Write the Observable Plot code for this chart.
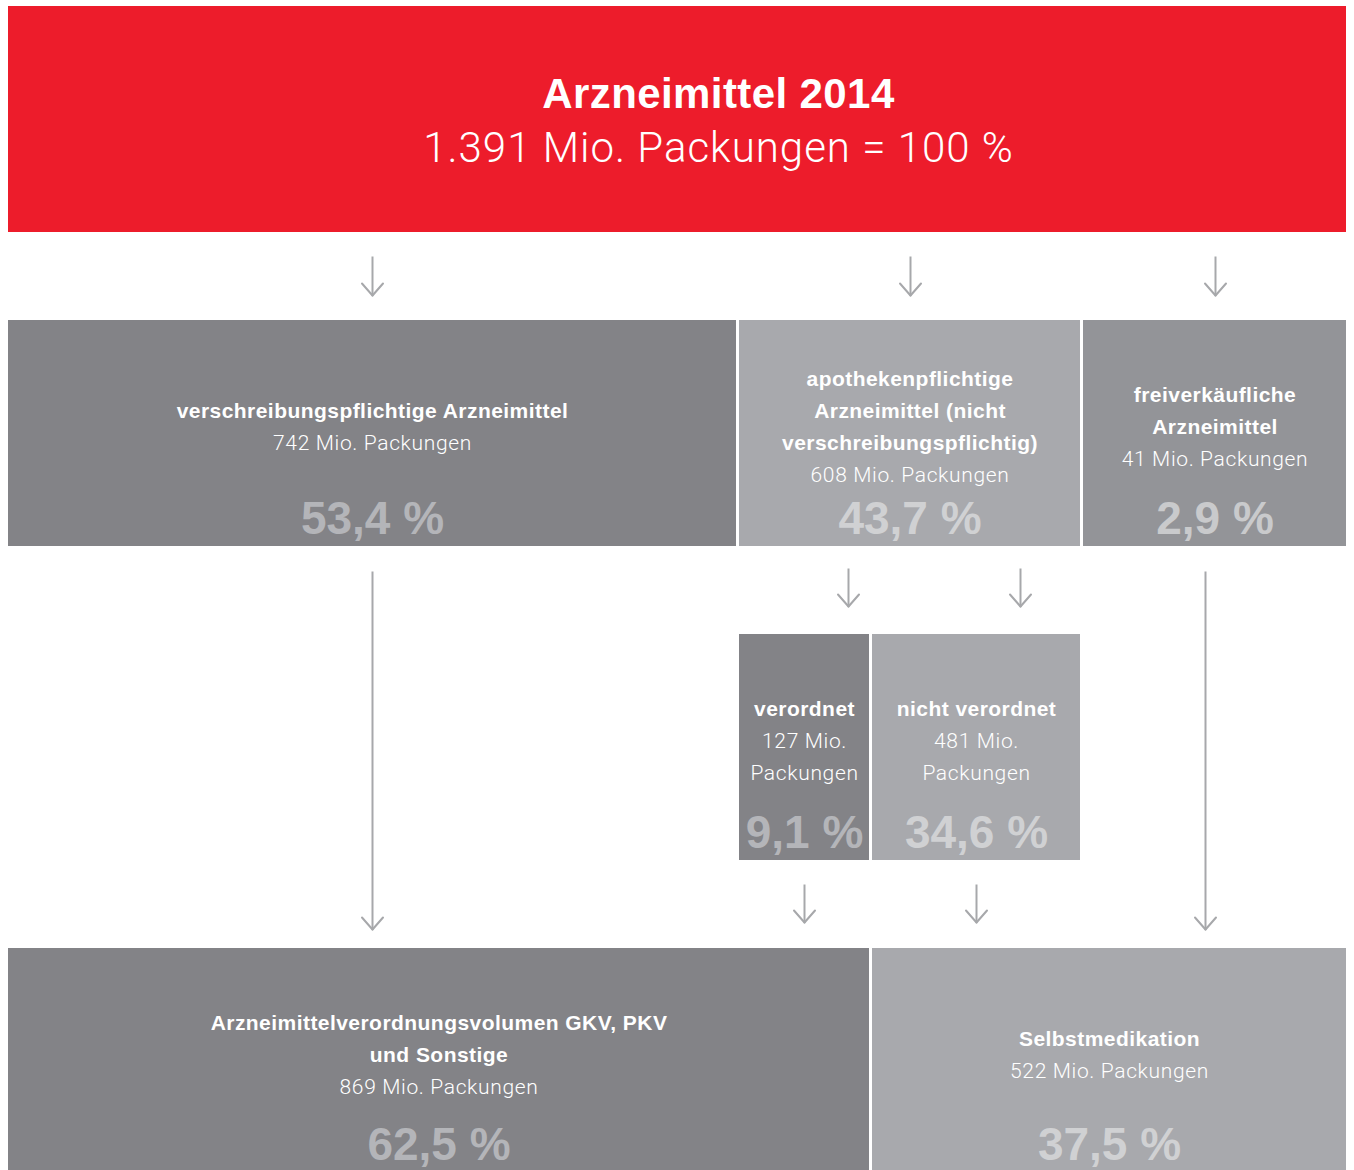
<!DOCTYPE html>
<html><head><meta charset="utf-8">
<script src="https://cdn.jsdelivr.net/npm/d3@7"></script>
<script src="https://cdn.jsdelivr.net/npm/@observablehq/plot@0.6"></script>
<style>body{margin:0;background:#fff} svg{display:block}</style>
</head><body><div id="chart"></div>
<script>
// ---- Data ----
const categories = [
  "Arzneimittel 2014",
  "verschreibungspflichtige Arzneimittel",
  "apothekenpflichtige Arzneimittel (nicht verschreibungspflichtig)",
  "freiverkäufliche Arzneimittel",
  "verordnet",
  "nicht verordnet",
  "Arzneimittelverordnungsvolumen GKV, PKV und Sonstige",
  "Selbstmedikation"
];
const labelLines = [
  ["Arzneimittel 2014"],
  ["verschreibungspflichtige Arzneimittel"],
  ["apothekenpflichtige", "Arzneimittel (nicht", "verschreibungspflichtig)"],
  ["freiverkäufliche", "Arzneimittel"],
  ["verordnet"],
  ["nicht verordnet"],
  ["Arzneimittelverordnungsvolumen GKV, PKV", "und Sonstige"],
  ["Selbstmedikation"]
];
const packungen = [1391, 742, 608, 41, 127, 481, 869, 522]; // Mio. Packungen
const shares = [100, 53.4, 43.7, 2.9, 9.1, 34.6, 62.5, 37.5]; // %
const unitText = "Mio. Packungen";

// ---- Layout (positions and styles) ----
const layout = [
  {x1: 8, x2: 1346, y1: 6, y2: 232, fill: "#ed1c2b", cx: 718},
  {x1: 8, x2: 736, y1: 320, y2: 546, fill: "#838387", pct: "#b4b5b9", pctOff: 13},
  {x1: 739, x2: 1080, y1: 320, y2: 546, fill: "#a8a9ad", pct: "#d0d1d3", pctOff: 13},
  {x1: 1083, x2: 1346, y1: 320, y2: 546, fill: "#939498", pct: "#c9cacc", pctOff: 13},
  {x1: 739, x2: 869, y1: 634, y2: 860, fill: "#838387", pct: "#b4b5b9", pctOff: 13, wrap: true},
  {x1: 872, x2: 1080, y1: 634, y2: 860, fill: "#a8a9ad", pct: "#d0d1d3", pctOff: 13, wrap: true},
  {x1: 8, x2: 869, y1: 948, y2: 1175, fill: "#838387", pct: "#b4b5b9", pctOff: 16},
  {x1: 872, x2: 1346, y1: 948, y2: 1175, fill: "#a8a9ad", pct: "#d0d1d3", pctOff: 16}
];
const arrows = [
  {x: 372, y1: 256, y2: 295}, {x: 910, y1: 256, y2: 295}, {x: 1215, y1: 256, y2: 295},
  {x: 848, y1: 568, y2: 606}, {x: 1020, y1: 568, y2: 606},
  {x: 372, y1: 571, y2: 929}, {x: 1205, y1: 571, y2: 929},
  {x: 804, y1: 884, y2: 922}, {x: 976, y1: 884, y2: 922}
];
const arrowColor = "#a7a8ab";
const lineStep = 32;
const boldFont = "'Liberation Sans', Arial, sans-serif";
const lightFont = "Roboto, 'Liberation Sans', sans-serif";
// letter-spacing per text group (title, subtitle, labels, values, percents)
const spacing = ["0.4px", "1px", "0.45px", "0.65px", "0px"];

// ---- Formatting ----
const de = d3.formatLocale({decimal: ",", thousands: ".", grouping: [3], currency: ["", " €"]});
const fmtInt = de.format(",d");
const fmtPct = de.format(".1f");

// ---- Build text rows ----
const boxes = categories.map((c, i) => ({...layout[i], category: c, value: packungen[i], share: shares[i], labels: labelLines[i]}));

const header = boxes[0];
const titleRows = [{x: header.cx, y: header.y1 + 101, text: header.labels[0]}];
const subtitleRows = [{x: header.cx, y: header.y1 + 155, text: `${fmtInt(header.value)} ${unitText} = ${header.share} %`}];

const boldRows = [], lightRows = [], pctRows = [];
boxes.slice(1).forEach(b => {
  const cx = (b.x1 + b.x2) / 2;
  const cy = (b.y1 + b.y2) / 2;
  const valueLines = b.wrap ? [`${fmtInt(b.value)} Mio.`, "Packungen"] : [`${fmtInt(b.value)} ${unitText}`];
  const lines = [...b.labels.map(t => ({t, bold: true})), ...valueLines.map(t => ({t, bold: false}))];
  const n = lines.length;
  lines.forEach((l, i) => {
    const row = {x: cx, y: cy + (i - (n - 1) / 2) * lineStep, text: l.t};
    (l.bold ? boldRows : lightRows).push(row);
  });
  pctRows.push({x: cx, y: b.y2 - b.pctOff, text: `${fmtPct(b.share)} %`, fill: b.pct});
});

const shafts = arrows.map(a => ({x1: a.x, y1: a.y1, x2: a.x, y2: a.y2}));
const wings = arrows.flatMap(a => [
  {x1: a.x - 10.5, y1: a.y2 - 12, x2: a.x, y2: a.y2},
  {x1: a.x + 10.5, y1: a.y2 - 12, x2: a.x, y2: a.y2}
]);

const chart = Plot.plot({
  width: 1354,
  height: 1170,
  margin: 0,
  x: {domain: [0, 1354], range: [0, 1354], axis: null},
  y: {domain: [0, 1170], range: [0, 1170], axis: null},
  style: {background: "#ffffff"},
  marks: [
    Plot.rect(boxes, {x1: "x1", x2: "x2", y1: "y1", y2: "y2", fill: d => d.fill}),
    Plot.link(shafts, {x1: "x1", y1: "y1", x2: "x2", y2: "y2", stroke: arrowColor, strokeWidth: 2}),
    Plot.link(wings, {x1: "x1", y1: "y1", x2: "x2", y2: "y2", stroke: arrowColor, strokeWidth: 2, strokeLinecap: "round"}),
    Plot.text(titleRows, {x: "x", y: "y", text: "text", fill: "#ffffff", fontSize: 42, fontWeight: "bold", fontFamily: boldFont, lineAnchor: "bottom"}),
    Plot.text(subtitleRows, {x: "x", y: "y", text: "text", fill: "#ffffff", fontSize: 42, fontWeight: 300, fontFamily: lightFont, lineAnchor: "bottom"}),
    Plot.text(boldRows, {x: "x", y: "y", text: "text", fill: "#ffffff", fontSize: 21, fontWeight: "bold", fontFamily: boldFont, lineAnchor: "bottom"}),
    Plot.text(lightRows, {x: "x", y: "y", text: "text", fill: "#ffffff", fontSize: 21, fontWeight: 300, fontFamily: lightFont, lineAnchor: "bottom"}),
    Plot.text(pctRows, {x: "x", y: "y", text: "text", fill: d => d.fill, fontSize: 46, fontWeight: "bold", fontFamily: boldFont, lineAnchor: "bottom"})
  ]
});
d3.select(chart).selectAll('g[aria-label="text"]').each(function (_, i) {
  this.style.letterSpacing = spacing[i];
});
document.getElementById("chart").append(chart);
</script></body></html>
